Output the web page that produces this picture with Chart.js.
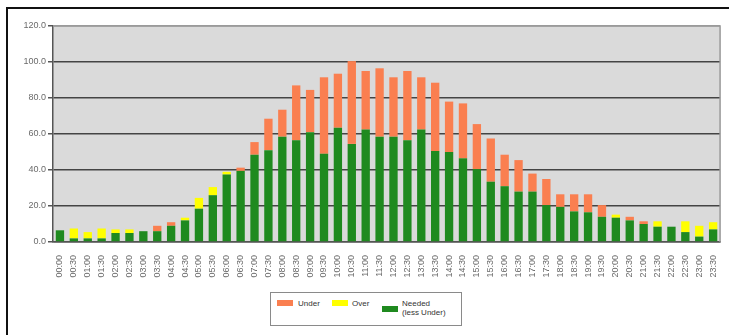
<!DOCTYPE html>
<html>
<head>
<meta charset="utf-8">
<script src="https://cdn.jsdelivr.net/npm/chart.js@4.4.1/dist/chart.umd.min.js"></script>
<style>
	body {margin: 0; background: #ffffff; font-family: "Liberation Sans", Arial, sans-serif;}
	#wrap {position: relative; width: 729px; height: 335px; overflow: hidden;}
	#frameTop {position: absolute; left: 6px; top: 7px; width: 730px; height: 2px; background: #111111;}
	#frameLeft {position: absolute; left: 6px; top: 7px; width: 2px; height: 340px; background: #111111;}
	#legend {position: absolute; left: 270px; top: 292px; width: 190px; height: 32px; border: 1px solid #8a8a8a; background: #ffffff; font-size: 8px; color: #333333;}
	.sw {position: absolute; width: 16px; height: 6px;}
	.lt {position: absolute; line-height: 9px;}
</style>
</head>
<body>
<div id="wrap">
	<canvas id="chart" width="729" height="335"></canvas>
	<div id="frameTop"></div>
	<div id="frameLeft"></div>
	<div id="legend">
		<div class="sw" style="left: 6px; top: 7px; background: #fa7f50;"></div>
		<div class="lt" style="left: 27px; top: 6px;">Under</div>
		<div class="sw" style="left: 61px; top: 7px; background: #ffff00;"></div>
		<div class="lt" style="left: 81px; top: 6px;">Over</div>
		<div class="sw" style="left: 111px; top: 13px; background: #1f8a1f;"></div>
		<div class="lt" style="left: 131px; top: 6px;">Needed<br>(less Under)</div>
	</div>
</div>
<script>
const timeLabels = [
	"00:00", "00:30", "01:00", "01:30", "02:00", "02:30", "03:00", "03:30",
	"04:00", "04:30", "05:00", "05:30", "06:00", "06:30", "07:00", "07:30",
	"08:00", "08:30", "09:00", "09:30", "10:00", "10:30", "11:00", "11:30",
	"12:00", "12:30", "13:00", "13:30", "14:00", "14:30", "15:00", "15:30",
	"16:00", "16:30", "17:00", "17:30", "18:00", "18:30", "19:00", "19:30",
	"20:00", "20:30", "21:00", "21:30", "22:00", "22:30", "23:00", "23:30",
];

// Needed (less Under)
const neededValues = [
	6.5, 2, 2, 2, 5, 5, 6, 6,
	9, 12, 18.5, 26, 37.5, 39.5, 48.5, 51,
	58.5, 56.5, 61, 49, 63.5, 54.5, 62.5, 58.5,
	58.5, 56.5, 62.5, 50.5, 50, 46.5, 40.5, 33.5,
	31, 28, 28, 20.5, 19.5, 17, 16.5, 14,
	13.5, 12, 10, 8.5, 8.5, 5.5, 3, 7,
];

const underValues = [
	0, 0, 0, 0, 0, 0, 0, 3,
	2, 0, 0, 0, 0, 1.8, 7, 17.5,
	15, 30.5, 23.5, 42.5, 30, 46, 32.5, 38,
	33, 38.5, 29, 38, 28, 30.5, 25, 24,
	17.5, 17.5, 10, 14.5, 7, 9.5, 10, 6.5,
	0, 2, 1.5, 0, 0, 0, 0, 0,
];

const overValues = [
	0, 5.5, 3.5, 5.5, 2, 2, 0, 0,
	0, 1.5, 6, 4.5, 1.5, 0, 0, 0,
	0, 0, 0, 0, 0, 0, 0, 0,
	0, 0, 0, 0, 0, 0, 0, 0,
	0, 0, 0, 0, 0, 0, 0, 0,
	1.7, 0, 0, 3, 0, 6, 6, 4,
];

const yTicks = [0, 20, 40, 60, 80, 100, 120];

const plotBackground = {
	id: "plotBackground",
	beforeDraw(chart) {
		const a = chart.chartArea;
		const ctx = chart.ctx;
		ctx.save();
		ctx.fillStyle = "#dadada";
		ctx.fillRect(a.left, a.top, a.right - a.left, a.bottom - a.top);
		ctx.restore();
	},
	afterDraw(chart) {
		const a = chart.chartArea;
		const ctx = chart.ctx;
		ctx.save();
		ctx.strokeStyle = "#9a9a9a";
		ctx.lineWidth = 1.5;
		ctx.beginPath();
		ctx.moveTo(a.left, a.top);
		ctx.lineTo(a.right, a.top);
		ctx.lineTo(a.right, a.bottom);
		ctx.stroke();
		ctx.restore();
	},
};

function barSet(label, values, color) {
	return {
		"label": label,
		"data": values,
		"backgroundColor": color,
		"borderWidth": 0,
		"categoryPercentage": 1.0,
		"barPercentage": 0.6,
	};
}

new Chart(document.getElementById("chart"), {
	"type": "bar",
	"data": {
		"labels": timeLabels,
		"datasets": [
			barSet("Needed (less Under)", neededValues, "#1f8a1f"),
			barSet("Under", underValues, "#fa7f50"),
			barSet("Over", overValues, "#ffff00"),
		],
	},
	"plugins": [plotBackground],
	"options": {
		"responsive": false,
		"animation": false,
		"layout": {"padding": {"left": 0, "top": 26, "right": 7, "bottom": 0}},
		"plugins": {
			"legend": {"display": false},
			"tooltip": {"enabled": false},
		},
		"scales": {
			"x": {
				"stacked": true,
				"grid": {"display": false},
				"border": {"color": "#555555", "width": 1.5},
				"ticks": {
					"autoSkip": false,
					"minRotation": 90,
					"maxRotation": 90,
					"padding": 5,
					"color": "#6a6a6a",
					"font": {"family": "Liberation Sans", "size": 9},
				},
				"afterFit": (scale) => { scale.height = 93; },
			},
			"y": {
				"stacked": true,
				"min": 0,
				"max": 120,
				"afterBuildTicks": (scale) => { scale.ticks = yTicks.map((v) => ({"value": v})); },
				"grid": {
					"color": (ctx) => (ctx.tick && ctx.tick.value == 120) ? "#9a9a9a" : "#444444",
					"lineWidth": 1.5,
					"tickLength": 5,
					"tickColor": "#555555",
				},
				"border": {"color": "#555555", "width": 1.5},
				"ticks": {
					"padding": 2,
					"color": "#6a6a6a",
					"font": {"family": "Liberation Sans", "size": 9},
					"callback": (value) => Number(value).toFixed(1),
				},
				"afterFit": (scale) => { scale.width = 53; },
			},
		},
	},
});
</script>
</body>
</html>
